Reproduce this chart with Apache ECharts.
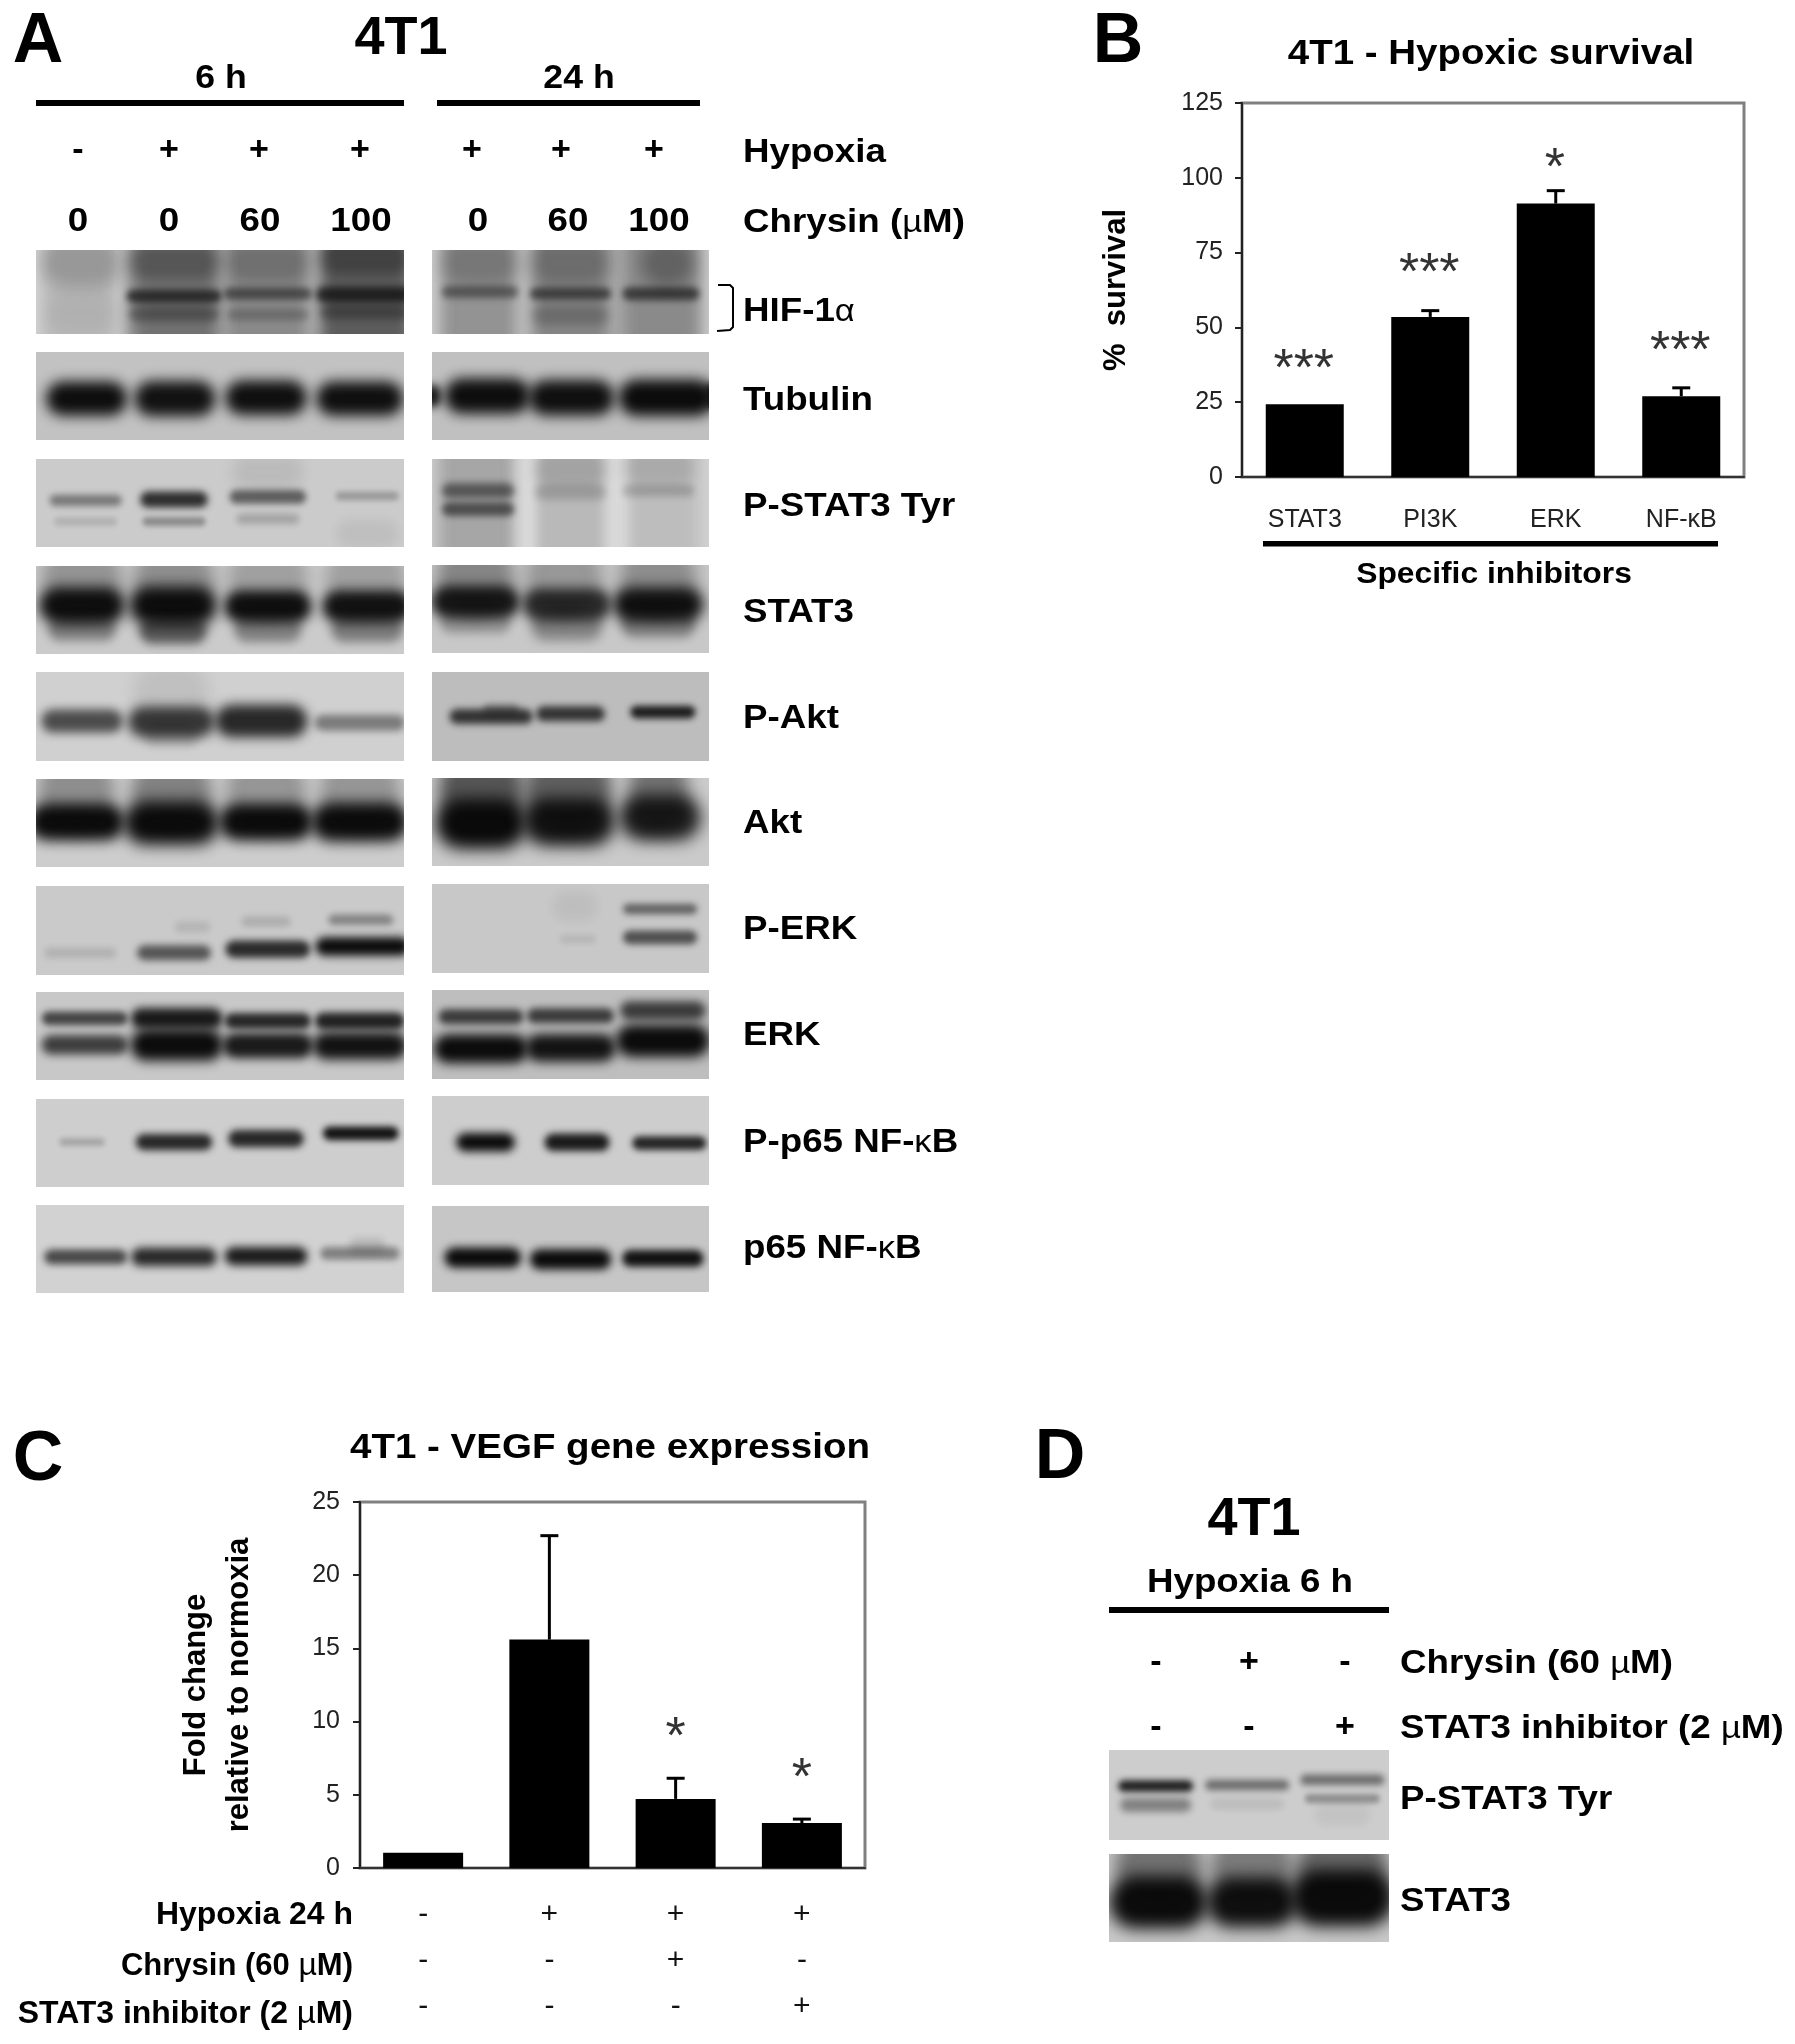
<!DOCTYPE html>
<html>
<head>
<meta charset="utf-8">
<title>4T1</title>
<script src="https://cdn.jsdelivr.net/npm/echarts@6/dist/echarts.min.js"></script>
<style>
  html, body { margin: 0; padding: 0; background: #fff; }
  #main { width: 1795px; height: 2044px; }
</style>
</head>
<body>
<div id="main"></div>
<script>
// panel B
const inhibitors = ['STAT3', 'PI3K', 'ERK', 'NF-κB'];
const survival = [24.3, 53.5, 91.4, 27];
const survivalErrTop = [24.3, 55.6, 95.7, 29.8];
const survivalStars = ['***', '***', '*', '***'];
const survivalStarPos = [39, 71, 106, 45];

// panel C
const hypoxiaRow = ['-', '+', '+', '+'];
const chrysinRow = ['-', '-', '+', '-'];
const stat3InhRow = ['-', '-', '-', '+'];
const vegf = [1.05, 15.6, 4.72, 3.07];
const vegfErrTop = [1.05, 22.7, 6.13, 3.34];
const vegfStars = ['', '', '*', '*'];
const vegfStarPos = [0, 0, 9.5, 6.7];

// panel A header rows
const hypoxia6h = ['-', '+', '+', '+'];
const hypoxia24h = ['+', '+', '+'];
const chrysin6h = ['0', '0', '60', '100'];
const chrysin24h = ['0', '60', '100'];

// blot bands: [lane, % down the blot, width in lanes, height in %, darkness]
// negative darkness = pale stripe between lanes
const hif6h = [
  [1.5, 50, 0.35, 200, -0.5], [2.5, 50, 0.28, 200, -0.35], [3.5, 50, 0.28, 200, -0.35],
  [1, 50, 0.95, 200, 0.14], [1, 15, 0.9, 45, 0.2], [1, 75, 0.8, 40, 0.06],
  [2, 50, 1.05, 200, 0.5], [2, 55, 1.05, 12, 0.65], [2, 76, 1.0, 14, 0.3], [2, 15, 1, 30, 0.25],
  [3.02, 50, 1.0, 200, 0.38], [3.02, 52, 0.98, 11, 0.5], [3.02, 77, 0.9, 11, 0.22], [3.02, 15, 0.95, 35, 0.2],
  [4.08, 50, 1.05, 200, 0.6], [4.08, 53, 1.1, 14, 0.72], [4.08, 74, 1, 13, 0.32], [4.08, 10, 1, 30, 0.3]
];
const hif24h = [
  [1.5, 50, 0.3, 200, -0.4], [2.5, 50, 0.3, 200, -0.4],
  [1.02, 50, 0.9, 200, 0.32], [1.02, 50, 0.85, 11, 0.42], [1.02, 15, 0.85, 40, 0.2],
  [2, 50, 0.95, 200, 0.38], [2, 52, 0.9, 11, 0.55], [2, 78, 0.85, 18, 0.2], [2, 15, 0.9, 40, 0.2],
  [2.96, 50, 0.95, 200, 0.36], [2.98, 52, 0.85, 12, 0.6], [3.05, 15, 0.6, 45, 0.3]
];
const tubulin6h = [
  [1.05, 53, 0.9, 30, 0.97], [2.01, 53, 0.9, 31, 0.95], [3.0, 52, 0.91, 30, 0.96], [4.02, 53, 0.97, 30, 0.96]
];
const tubulin24h = [
  [0.5, 50, 0.2, 20, 0.9], [1.1, 50, 0.95, 31, 0.97], [2.01, 52, 0.95, 31, 0.96],
  [3.04, 52, 1.06, 32, 0.98], [3.52, 50, 0.12, 22, 0.85]
];
const pstat6h = [
  [1.04, 47, 0.8, 10, 0.42], [1.04, 71, 0.7, 8, 0.12], [2, 46, 0.75, 14, 0.8], [2, 71, 0.7, 8, 0.32],
  [3.02, 43, 0.85, 12, 0.55], [3.02, 68, 0.7, 9, 0.2], [3.02, 15, 0.8, 30, 0.08], [4.1, 42, 0.7, 8, 0.24], [4.1, 85, 0.7, 25, 0.06]
];
const pstat24h = [
  [1.5, 50, 0.3, 200, -0.55], [2.5, 50, 0.3, 200, -0.55],
  [1, 50, 0.9, 200, 0.22], [1, 36, 0.8, 13, 0.5], [1, 57, 0.8, 12, 0.55],
  [2, 50, 0.9, 200, 0.12], [2, 38, 0.8, 13, 0.15], [2, 12, 0.8, 30, 0.12],
  [2.95, 50, 0.9, 200, 0.1], [2.95, 36, 0.8, 11, 0.16], [2.95, 10, 0.8, 30, 0.1]
];
const stat6h = [
  [1.0, 15, 0.9, 70, 0.28], [2, 15, 0.9, 70, 0.3], [3.02, 15, 0.9, 70, 0.22], [4.08, 15, 0.9, 70, 0.22],
  [1.0, 45, 0.95, 32, 0.96], [1.0, 72, 0.75, 20, 0.38],
  [1.99, 45, 0.97, 34, 0.97], [1.99, 74, 0.75, 22, 0.58],
  [3.02, 46, 0.97, 28, 0.96], [3.02, 72, 0.75, 22, 0.38],
  [4.1, 46, 1.0, 28, 0.94], [4.1, 72, 0.8, 22, 0.4]
];
const stat24h = [
  [0.97, 15, 0.85, 70, 0.35], [1.93, 15, 0.85, 70, 0.25], [2.95, 15, 0.85, 70, 0.3],
  [0.97, 42, 0.98, 28, 0.9], [0.97, 66, 0.78, 18, 0.26],
  [1.96, 45, 0.98, 28, 0.8], [1.96, 70, 0.78, 24, 0.36],
  [2.95, 45, 1.0, 30, 0.95], [2.95, 68, 0.82, 22, 0.36]
];
const pakt6h = [
  [1.0, 55, 0.9, 20, 0.66], [1.97, 56, 0.96, 26, 0.76], [2.95, 55, 1.02, 28, 0.84], [4.02, 57, 1.0, 14, 0.42],
  [1.97, 22, 0.85, 50, 0.08], [1.97, 72, 0.6, 16, 0.2]
];
const pakt24h = [
  [1.14, 50, 0.92, 13, 0.76], [1.25, 42, 0.4, 9, 0.35], [2, 47, 0.76, 13, 0.76], [3, 45, 0.72, 11, 0.88]
];
const akt6h = [
  [0.94, 15, 0.85, 70, 0.32], [1.97, 15, 0.9, 70, 0.38], [3, 15, 0.9, 70, 0.28], [4.02, 15, 0.9, 70, 0.28],
  [0.94, 49, 1.06, 32, 0.98], [1.97, 50, 1.06, 38, 0.98], [3, 49, 1.04, 32, 0.98], [4.02, 49, 1.08, 34, 0.98]
];
const akt24h = [
  [1.03, 14, 0.92, 80, 0.6], [1.98, 14, 0.95, 80, 0.55], [2.95, 18, 0.65, 70, 0.45],
  [1.03, 52, 1.0, 44, 0.98], [1.98, 50, 1.02, 42, 0.92], [2.97, 45, 0.9, 40, 0.88]
];
const perk6h = [
  [0.98, 75, 0.8, 9, 0.12], [2, 75, 0.82, 13, 0.6], [2.2, 46, 0.4, 10, 0.1],
  [3.02, 71, 0.94, 15, 0.82], [3, 40, 0.55, 9, 0.14], [4.05, 68, 1.05, 16, 0.98], [4.03, 38, 0.72, 9, 0.36]
];
const perk24h = [
  [2.97, 28, 0.82, 9, 0.52], [2.97, 60, 0.82, 12, 0.62], [2.08, 62, 0.4, 8, 0.08], [2.05, 25, 0.5, 25, 0.05]
];
const erk6h = [
  [1.03, 30, 0.95, 12, 0.68], [1.03, 60, 0.96, 17, 0.72],
  [2.03, 30, 1.02, 18, 0.9], [2.03, 60, 1.03, 28, 0.98],
  [3.02, 33, 0.96, 14, 0.84], [3.02, 61, 1.0, 22, 0.9],
  [4.02, 33, 1.0, 15, 0.86], [4.02, 61, 1.05, 24, 0.95]
];
const erk24h = [
  [1.03, 30, 0.94, 13, 0.72], [1.03, 66, 1.04, 25, 0.98],
  [2, 29, 0.96, 13, 0.72], [2, 65, 1.0, 24, 0.94],
  [3, 23, 0.95, 16, 0.72], [3, 57, 1.04, 28, 0.98]
];
const pp656h = [
  [1, 49, 0.5, 7, 0.2], [2, 49, 0.85, 14, 0.84], [3, 45, 0.84, 15, 0.84], [4.03, 39, 0.84, 12, 0.94]
];
const pp6524h = [
  [1.08, 52, 0.65, 16, 0.98], [2.07, 52, 0.72, 15, 0.9], [3.07, 53, 0.82, 12, 0.85]
];
const p656h = [
  [1.04, 59, 0.92, 13, 0.68], [2, 59, 0.95, 16, 0.84], [3, 58, 0.92, 16, 0.9], [4.02, 55, 0.88, 11, 0.4], [4.1, 46, 0.4, 14, 0.12]
];
const p6524h = [
  [1.05, 60, 0.85, 18, 0.98], [2, 62, 0.9, 18, 0.98], [3, 61, 0.9, 15, 0.95]
];
const dPstat = [
  [1, 40, 0.82, 10, 0.88], [1, 61, 0.78, 12, 0.38], [1.98, 39, 0.92, 9, 0.48], [1.98, 60, 0.8, 10, 0.08],
  [3, 33, 0.92, 9, 0.48], [3, 54, 0.82, 8, 0.3], [3, 72, 0.6, 18, 0.05]
];
const dStat = [
  [1.03, 15, 0.95, 70, 0.45], [2.03, 15, 0.9, 70, 0.4], [3, 15, 1, 70, 0.5],
  [1.03, 55, 1.08, 46, 0.98], [2.03, 55, 1.0, 44, 0.96], [3, 50, 1.14, 50, 0.98]
];

const sans = '"Liberation Sans", Arial, sans-serif';

// lanes: 0.5 .. n+0.5 across the blot rectangle
const blots = [
  { bands: hif6h, lanes: 4, rect: [36, 250, 368, 84], gray: '#dadada' },
  { bands: hif24h, lanes: 3, rect: [432, 250, 277, 84], gray: '#d4d4d4' },
  { bands: tubulin6h, lanes: 4, rect: [36, 352, 368, 88], gray: '#c2c2c2' },
  { bands: tubulin24h, lanes: 3, rect: [432, 352, 277, 88], gray: '#c0c0c0' },
  { bands: pstat6h, lanes: 4, rect: [36, 459, 368, 88], gray: '#cbcbcb' },
  { bands: pstat24h, lanes: 3, rect: [432, 459, 277, 88], gray: '#d2d2d2' },
  { bands: stat6h, lanes: 4, rect: [36, 566, 368, 88], gray: '#cbcbcb' },
  { bands: stat24h, lanes: 3, rect: [432, 565, 277, 88], gray: '#c8c8c8' },
  { bands: pakt6h, lanes: 4, rect: [36, 672, 368, 89], gray: '#d0d0d0' },
  { bands: pakt24h, lanes: 3, rect: [432, 672, 277, 89], gray: '#bdbdbd' },
  { bands: akt6h, lanes: 4, rect: [36, 779, 368, 88], gray: '#cdcdcd' },
  { bands: akt24h, lanes: 3, rect: [432, 778, 277, 88], gray: '#cacaca' },
  { bands: perk6h, lanes: 4, rect: [36, 886, 368, 89], gray: '#cacaca' },
  { bands: perk24h, lanes: 3, rect: [432, 884, 277, 89], gray: '#c8c8c8' },
  { bands: erk6h, lanes: 4, rect: [36, 992, 368, 88], gray: '#c8c8c8' },
  { bands: erk24h, lanes: 3, rect: [432, 990, 277, 89], gray: '#bebebe' },
  { bands: pp656h, lanes: 4, rect: [36, 1099, 368, 88], gray: '#cecece' },
  { bands: pp6524h, lanes: 3, rect: [432, 1096, 277, 89], gray: '#cdcdcd' },
  { bands: p656h, lanes: 4, rect: [36, 1205, 368, 88], gray: '#d2d2d2' },
  { bands: p6524h, lanes: 3, rect: [432, 1206, 277, 86], gray: '#c6c6c6' },
  { bands: dPstat, lanes: 3, rect: [1109, 1750, 280, 90], gray: '#cdcdcd' },
  { bands: dStat, lanes: 3, rect: [1109, 1854, 280, 88], gray: '#c8c8c8' }
];

// each band is the blurred shadow of a rounded rect parked off to the left,
// so only the soft part lands on the blot
const OFF = 4000;
function renderBand(params, api) {
  const c = api.coord([api.value(0), api.value(1)]);
  const s = api.size([api.value(2), api.value(3)]);
  const d = api.value(4);
  const rgb = d < 0 ? '255,255,255' : '8,8,8';
  const w = s[0] * 0.98;
  const h = s[1] * 1.3;
  const small = Math.min(w, h);
  return {
    type: 'rect',
    silent: true,
    shape: { x: c[0] - w / 2 - OFF, y: c[1] - h / 2, width: w, height: h, r: small * 0.5 },
    style: {
      fill: '#000',
      shadowColor: 'rgba(' + rgb + ',' + Math.abs(d) + ')',
      shadowBlur: Math.min(16, small * 0.28 + 3),
      shadowOffsetX: OFF,
      shadowOffsetY: 0
    }
  };
}

function renderErr(params, api) {
  const x = api.value(0);
  const low = api.coord([x, api.value(1)]);
  const high = api.coord([x, api.value(2)]);
  if (api.value(1) === api.value(2)) return null;
  const st = { stroke: '#000', lineWidth: 3 };
  return {
    type: 'group',
    children: [
      { type: 'line', shape: { x1: low[0], y1: low[1], x2: high[0], y2: high[1] }, style: st },
      { type: 'line', shape: { x1: high[0] - 9, y1: high[1], x2: high[0] + 9, y2: high[1] }, style: st }
    ]
  };
}

function barAxes(cats, ymax, step, labelOpt, yMargin, name, nameGap, nameSize) {
  return {
    x: {
      type: 'category',
      data: cats,
      axisLine: { lineStyle: { color: '#333', width: 2 } },
      axisTick: { length: 7, alignWithLabel: false, lineStyle: { color: '#333', width: 2 } },
      axisLabel: Object.assign({ color: '#222', fontFamily: sans, interval: 0 }, labelOpt)
    },
    y: {
      type: 'value',
      min: 0,
      max: ymax,
      interval: step,
      splitLine: { show: false },
      axisLine: { show: true, lineStyle: { color: '#222', width: 2 } },
      axisTick: { show: true, length: 7, lineStyle: { color: '#222', width: 2 } },
      axisLabel: { color: '#222', fontSize: 25, fontFamily: sans, margin: yMargin },
      name: name,
      nameLocation: 'middle',
      nameGap: nameGap,
      nameTextStyle: { fontFamily: sans, fontWeight: 'bold', color: '#000', fontSize: nameSize, lineHeight: 43 }
    }
  };
}

const grids = [];
const xAxes = [];
const yAxes = [];
const series = [];

// B
const axB = barAxes(inhibitors, 125, 25, { fontSize: 25, margin: 31 }, 19, '%  survival', 104, 31);
grids.push({ left: 1242, top: 103, width: 502, height: 374, show: true, borderColor: '#808080', borderWidth: 3, backgroundColor: 'transparent' });
xAxes.push(Object.assign({ gridIndex: 0 }, axB.x));
yAxes.push(Object.assign({ gridIndex: 0 }, axB.y));
series.push({ type: 'bar', xAxisIndex: 0, yAxisIndex: 0, data: survival, barWidth: 78, itemStyle: { color: '#000' }, animation: false, silent: true });
series.push({ type: 'custom', xAxisIndex: 0, yAxisIndex: 0, renderItem: renderErr, data: survival.map((v, i) => [i, v, survivalErrTop[i]]), animation: false, silent: true });
series.push({
  type: 'scatter', xAxisIndex: 0, yAxisIndex: 0, symbolSize: 1, itemStyle: { color: 'transparent' }, silent: true, animation: false,
  data: survivalStars.map((s, i) => ({ value: [i, survivalStarPos[i]], name: s })),
  label: { show: true, position: 'inside', formatter: '{b}', fontSize: 52, fontFamily: sans, color: '#000', offset: [-1, 10] }
});

// C
const rowsC = hypoxiaRow.map((h, i) => [h, chrysinRow[i], stat3InhRow[i]].join('\n'));
const axC = barAxes(rowsC, 25, 5, { fontSize: 30, margin: 24, lineHeight: 46, color: '#111' }, 20, 'Fold change\nrelative to normoxia', 99, 31);
grids.push({ left: 360, top: 1502, width: 505, height: 366, show: true, borderColor: '#808080', borderWidth: 3, backgroundColor: 'transparent' });
xAxes.push(Object.assign({ gridIndex: 1 }, axC.x));
yAxes.push(Object.assign({ gridIndex: 1 }, axC.y));
series.push({ type: 'bar', xAxisIndex: 1, yAxisIndex: 1, data: vegf, barWidth: 80, itemStyle: { color: '#000' }, animation: false, silent: true });
series.push({ type: 'custom', xAxisIndex: 1, yAxisIndex: 1, renderItem: renderErr, data: vegf.map((v, i) => [i, v, vegfErrTop[i]]), animation: false, silent: true });
series.push({
  type: 'scatter', xAxisIndex: 1, yAxisIndex: 1, symbolSize: 1, itemStyle: { color: 'transparent' }, silent: true, animation: false,
  data: vegfStars.map((s, i) => ({ value: [i, vegfStarPos[i]], name: s })),
  label: { show: true, position: 'inside', formatter: '{b}', fontSize: 52, fontFamily: sans, color: '#000', offset: [0, 10] }
});

// blots, one small grid each
blots.forEach(function (b) {
  const idx = grids.length;
  grids.push({ left: b.rect[0], top: b.rect[1], width: b.rect[2], height: b.rect[3], show: true, backgroundColor: b.gray, borderWidth: 0 });
  xAxes.push({ gridIndex: idx, type: 'value', min: 0.5, max: b.lanes + 0.5, show: false });
  yAxes.push({ gridIndex: idx, type: 'value', min: 0, max: 100, inverse: true, show: false });
  series.push({ type: 'custom', xAxisIndex: idx, yAxisIndex: idx, clip: true, silent: true, animation: false, renderItem: renderBand, data: b.bands });
});

const greek = { g: { fontWeight: 'normal', fontFamily: sans, fontSize: 32, fill: '#000' } };

function txt(text, x, y, size, align, sx, bold) {
  return {
    type: 'text', x: x, y: y, scaleX: sx || 1, silent: true,
    style: {
      text: text, fontSize: size, fontWeight: bold === false ? 'normal' : 'bold', fontFamily: sans,
      fill: '#000', align: align || 'left', verticalAlign: 'middle', rich: greek
    }
  };
}
function bar(x, y, w, h) {
  return { type: 'rect', silent: true, shape: { x: x, y: y, width: w, height: h }, style: { fill: '#000' } };
}

const lane6x = [78, 169, 259, 360];
const lane24x = [472, 561, 654];
const dose6x = [78, 169, 260, 361];
const dose24x = [478, 568, 659];
const LW = 1.08;
const FS = 34;

const marks = [
  txt('A', 38, 43, 70, 'center'), txt('B', 1118, 43, 70, 'center'),
  txt('C', 38, 1461, 70, 'center'), txt('D', 1060, 1459, 70, 'center'),
  txt('4T1', 401, 39, 54, 'center'),
  txt('6 h', 221, 79, 33, 'center', LW), txt('24 h', 579, 79, 33, 'center', LW),
  bar(36, 100, 368, 6), bar(437, 100, 263, 6),
  txt('Hypoxia', 743, 153, FS, 'left', LW), txt('Chrysin ({g|µ}M)', 743, 223, FS, 'left', LW),
  txt('HIF-1{g|α}', 743, 312, FS, 'left', LW), txt('Tubulin', 743, 401, FS, 'left', LW),
  txt('P-STAT3 Tyr', 743, 507, FS, 'left', LW), txt('STAT3', 743, 613, FS, 'left', LW),
  txt('P-Akt', 743, 719, FS, 'left', LW), txt('Akt', 743, 824, FS, 'left', LW),
  txt('P-ERK', 743, 930, FS, 'left', LW), txt('ERK', 743, 1036, FS, 'left', LW),
  txt('P-p65 NF-{g|κ}B', 743, 1143, FS, 'left', LW), txt('p65 NF-{g|κ}B', 743, 1249, FS, 'left', LW),
  { type: 'polyline', silent: true, shape: { points: [[718, 285], [730, 285], [733, 288], [733, 327], [730, 330], [717, 331]] }, style: { fill: 'none', stroke: '#000', lineWidth: 2 } },
  // B
  txt('4T1 - Hypoxic survival', 1491, 54, 35, 'center', 1.1),
  bar(1263, 541, 455, 5.5),
  txt('Specific inhibitors', 1494, 575, 30, 'center', 1.06),
  // C
  txt('4T1 - VEGF gene expression', 610, 1448, 35, 'center', 1.1),
  txt('Hypoxia 24 h', 353, 1915, 31, 'right', 1.03),
  txt('Chrysin (60 {g|µ}M)', 353, 1966, 31, 'right', 1.0),
  txt('STAT3 inhibitor (2 {g|µ}M)', 353, 2014, 31, 'right', 1.03),
  // D
  txt('4T1', 1254, 1520, 54, 'center'),
  txt('Hypoxia 6 h', 1250, 1583, FS, 'center', LW),
  bar(1109, 1607, 280, 6),
  txt('Chrysin (60 {g|µ}M)', 1400, 1664, FS, 'left', LW),
  txt('STAT3 inhibitor (2 {g|µ}M)', 1400, 1729, FS, 'left', LW),
  txt('P-STAT3 Tyr', 1400, 1800, FS, 'left', LW),
  txt('STAT3', 1400, 1902, FS, 'left', LW)
];
hypoxia6h.forEach((t, i) => marks.push(txt(t, lane6x[i], 151, 34, 'center')));
hypoxia24h.forEach((t, i) => marks.push(txt(t, lane24x[i], 151, 34, 'center')));
chrysin6h.forEach((t, i) => marks.push(txt(t, dose6x[i], 222, FS, 'center', LW)));
chrysin24h.forEach((t, i) => marks.push(txt(t, dose24x[i], 222, FS, 'center', LW)));
const dMarksX = [1156, 1249, 1345];
['-', '+', '-'].forEach((t, i) => marks.push(txt(t, dMarksX[i], 1663, 34, 'center')));
['-', '-', '+'].forEach((t, i) => marks.push(txt(t, dMarksX[i], 1728, 34, 'center')));

const chart = echarts.init(document.getElementById('main'), null, { renderer: 'canvas' });
chart.setOption({
  animation: false,
  backgroundColor: '#fff',
  grid: grids,
  xAxis: xAxes,
  yAxis: yAxes,
  series: series,
  graphic: { elements: marks }
});
</script>
</body>
</html>
